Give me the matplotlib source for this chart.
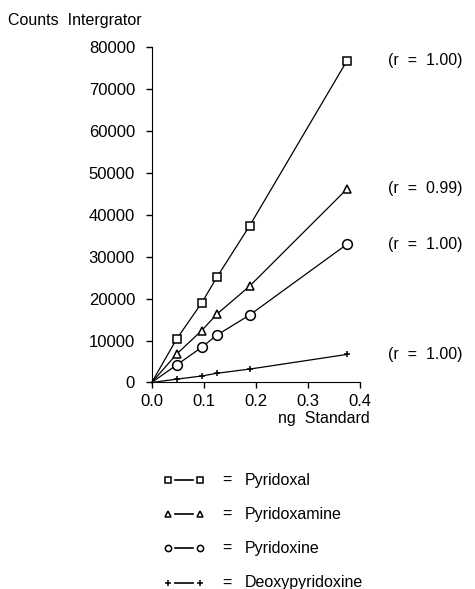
import matplotlib.pyplot as plt
from matplotlib.lines import Line2D

plt.rcParams['font.family'] = ['Liberation Sans', 'DejaVu Sans']

x = [0.0, 0.048, 0.096, 0.125, 0.188, 0.375]
pyridoxal = [0, 10400, 19000, 25100, 37400, 76800]
pyridoxamine = [0, 6800, 12400, 16300, 23000, 46200]
pyridoxine = [0, 4200, 8400, 11300, 16100, 33000]
deoxypyridoxine = [0, 800, 1550, 2200, 3200, 6700]

names = ['Pyridoxal', 'Pyridoxamine', 'Pyridoxine', 'Deoxypyridoxine']
r_values = ['1.00', '0.99', '1.00', '1.00']
markers = ['s', '^', 'o', '+']
msizes = [5.5, 5.5, 7, 5]

fig = plt.figure(figsize=(4.75, 5.89), dpi=100)
ax = fig.add_axes([0.3194, 0.3506, 0.4386, 0.5691])

series = [pyridoxal, pyridoxamine, pyridoxine, deoxypyridoxine]
for y, m, ms, r in zip(series, markers, msizes, r_values):
    ax.plot(x, y, color='black', lw=0.9, marker=m, markersize=ms,
            markerfacecolor='white', markeredgecolor='black', markeredgewidth=1.1,
            markevery=list(range(1, len(x))), clip_on=False, zorder=3)
    ax.text(0.453, y[-1], '(r  =  ' + r + ')', fontsize=11.5, va='center',
            ha='left', clip_on=False)

ax.set_xlim(0, 0.4)
ax.set_ylim(0, 80000)
ax.set_xticks([0.0, 0.1, 0.2, 0.3, 0.4])
ax.set_xticklabels(['0.0', '0.1', '0.2', '0.3', '0.4'])
ax.set_yticks(range(0, 80001, 10000))
ax.spines['top'].set_visible(False)
ax.spines['right'].set_visible(False)
ax.tick_params(direction='out', length=4, width=1, labelsize=12, pad=4)
ax.tick_params(axis='y', pad=8)

fig.text(8 / 475, 1 - 20 / 589, 'Counts  Intergrator', fontsize=11.5,
         ha='left', va='center')
fig.text(370 / 475, 1 - 419 / 589, 'ng  Standard', fontsize=11.5,
         ha='right', va='center')

# legend drawn below the chart
rows = [480, 514, 548, 583]
for yy, m, name in zip(rows, markers, names):
    yf = 1 - yy / 589
    fig.add_artist(Line2D([168 / 475, 200 / 475], [yf, yf], ls='none',
                          marker=m, markersize=4.5, markerfacecolor='white',
                          markeredgecolor='black', markeredgewidth=1.1,
                          transform=fig.transFigure))
    fig.add_artist(Line2D([175 / 475, 193 / 475], [yf, yf], color='black',
                          lw=1.2, transform=fig.transFigure))
    fig.text(227 / 475, yf, '=', fontsize=11.5, ha='center', va='center')
    fig.text(245 / 475, yf, name, fontsize=11.5, ha='left', va='center')

fig.savefig('out.png', dpi=100, facecolor='white')
